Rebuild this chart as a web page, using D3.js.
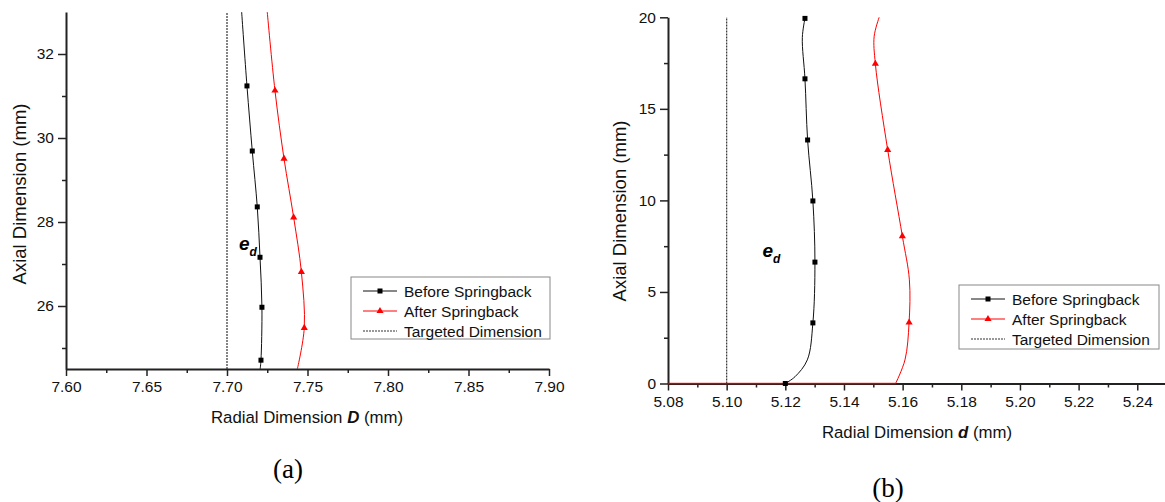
<!DOCTYPE html>
<html><head><meta charset="utf-8">
<script src="https://cdn.jsdelivr.net/npm/d3@7"></script>
<style>
html,body{margin:0;padding:0;background:#fff;}
svg{display:block;font-family:"Liberation Sans",Arial,sans-serif;}
</style></head>
<body>
<svg id="chart" width="1165" height="502"></svg>
<script>
// ---------- Data: chart (a) ----------
const aXTicks = [7.60, 7.65, 7.70, 7.75, 7.80, 7.85, 7.90];
const aYTicks = [26, 28, 30, 32];
const aTarget = 7.70;
const aBeforeLineX = [7.7091, 7.7124, 7.7157, 7.7188, 7.7205, 7.7217, 7.7211, 7.7206];
const aBeforeLineY = [33.0, 31.24, 29.69, 28.36, 27.16, 25.97, 24.71, 24.5];
const aBeforeMarkX = [7.7124, 7.7157, 7.7188, 7.7205, 7.7217, 7.7211];
const aBeforeMarkY = [31.24, 29.69, 28.36, 27.16, 25.97, 24.71];
const aAfterLineX = [7.7250, 7.7298, 7.7354, 7.7414, 7.7462, 7.7480, 7.7437];
const aAfterLineY = [33.0, 31.13, 29.51, 28.11, 26.81, 25.48, 24.5];
const aAfterMarkX = [7.7298, 7.7354, 7.7414, 7.7462, 7.7480];
const aAfterMarkY = [31.13, 29.51, 28.11, 26.81, 25.48];

// ---------- Data: chart (b) ----------
const bXTicks = [5.08, 5.10, 5.12, 5.14, 5.16, 5.18, 5.20, 5.22, 5.24];
const bYTicks = [0, 5, 10, 15, 20];
const bTarget = 5.10;
const bBeforeFlatX = [5.08, 5.12];
const bBeforeLineX = [5.1200, 5.1233, 5.1275, 5.1294, 5.1301, 5.1294, 5.1276, 5.1267, 5.1258, 5.1267];
const bBeforeLineY = [0, 0.37, 1.29, 3.31, 6.63, 9.97, 13.30, 16.64, 18.9, 19.94];
const bBeforeMarkX = [5.1200, 5.1294, 5.1301, 5.1294, 5.1276, 5.1267, 5.1267];
const bBeforeMarkY = [0, 3.31, 6.63, 9.97, 13.30, 16.64, 19.94];
const bAfterFlatX = [5.08, 5.1576];
const bAfterLineX = [5.1576, 5.1608, 5.1622, 5.1623, 5.1599, 5.1549, 5.1507, 5.1503, 5.1520];
const bAfterLineY = [0, 1.29, 3.33, 5.66, 8.05, 12.76, 17.46, 18.97, 20.0];
const bAfterMarkX = [5.1622, 5.1599, 5.1549, 5.1507];
const bAfterMarkY = [3.33, 8.05, 12.76, 17.46];

const legendLabels = ["Before Springback", "After Springback", "Targeted Dimension"];

const svg = d3.select("#chart");
const FONT = 15.5;
const AXC = "#222";

function drawPanel(cfg) {
  const g = svg.append("g");
  const x = d3.scaleLinear().domain(cfg.xDomain).range(cfg.xRange);
  const y = d3.scaleLinear().domain(cfg.yDomain).range(cfg.yRange);

  // minor ticks
  const xMinor = d3.axisBottom(x).tickValues(cfg.xMinor).tickSize(4).tickFormat("").tickSizeOuter(0);
  const yMinor = d3.axisLeft(y).tickValues(cfg.yMinor).tickSize(4).tickFormat("").tickSizeOuter(0);
  g.append("g").attr("transform", `translate(0,${cfg.yRange[0]})`).call(xMinor)
    .call(s => s.select(".domain").remove()).selectAll("line").attr("stroke", AXC).attr("stroke-width", 1.5);
  g.append("g").attr("transform", `translate(${cfg.xRange[0]},0)`).call(yMinor)
    .call(s => s.select(".domain").remove()).selectAll("line").attr("stroke", AXC).attr("stroke-width", 1.5);

  // target dotted line
  g.append("line")
    .attr("x1", x(cfg.target)).attr("x2", x(cfg.target))
    .attr("y1", cfg.yRange[0]).attr("y2", cfg.yRange[1])
    .attr("stroke", "#333").attr("stroke-width", 1.2).attr("stroke-dasharray", "2,1");

  const line = d3.line().x(d => x(d[0])).y(d => y(d[1])).curve(d3.curveCatmullRom.alpha(0.5));
  const straight = d3.line().x(d => x(d[0])).y(d => y(d[1]));

  // series paths
  const bPts = cfg.bLineX.map((v, i) => [v, cfg.bLineY[i]]);
  const rPts = cfg.rLineX.map((v, i) => [v, cfg.rLineY[i]]);
  if (cfg.bFlatX) {
    g.append("path").attr("d", straight(cfg.bFlatX.map(v => [v, 0]))).attr("fill", "none").attr("stroke", "#111").attr("stroke-width", 1);
  }
  g.append("path").attr("d", line(bPts)).attr("fill", "none").attr("stroke", "#111").attr("stroke-width", 1);

  // axes (major)
  const xAxis = d3.axisBottom(x).tickValues(cfg.xTicks).tickSize(7).tickSizeOuter(0)
    .tickFormat(d3.format(".2f")).tickPadding(5);
  const yAxis = d3.axisLeft(y).tickValues(cfg.yTicks).tickSize(8).tickSizeOuter(0)
    .tickFormat(d3.format("d")).tickPadding(4);
  const gx = g.append("g").attr("transform", `translate(0,${cfg.yRange[0]})`).call(xAxis);
  const gy = g.append("g").attr("transform", `translate(${cfg.xRange[0]},0)`).call(yAxis);
  [gx, gy].forEach(a => {
    a.select(".domain").attr("stroke", AXC).attr("stroke-width", 2);
    a.selectAll(".tick line").attr("stroke", AXC).attr("stroke-width", 1.5);
    a.selectAll("text").attr("font-size", FONT).attr("fill", "#111")
      .attr("font-family", '"Liberation Sans",Arial,sans-serif');
  });

  if (cfg.rFlatX) {
    g.append("path").attr("d", straight(cfg.rFlatX.map(v => [v, 0]))).attr("fill", "none").attr("stroke", "#e00").attr("stroke-opacity", 0.75).attr("stroke-width", 1.5);
  }
  g.append("path").attr("d", line(rPts)).attr("fill", "none").attr("stroke", "#f00").attr("stroke-width", 1);

  // markers
  g.selectAll(".sq").data(cfg.bMarkX.map((v, i) => [v, cfg.bMarkY[i]])).join("rect")
    .attr("x", d => x(d[0]) - 2.5).attr("y", d => y(d[1]) - 2.5)
    .attr("width", 5).attr("height", 5).attr("fill", "#000");
  const tri = d3.symbol().type(d3.symbolTriangle).size(22);
  g.selectAll(".tri").data(cfg.rMarkX.map((v, i) => [v, cfg.rMarkY[i]])).join("path")
    .attr("d", tri).attr("transform", d => `translate(${x(d[0])},${y(d[1])})`).attr("fill", "#f00");

  // axis titles
  const xt = g.append("text").attr("x", cfg.xTitlePos[0]).attr("y", cfg.xTitlePos[1])
    .attr("text-anchor", "middle").attr("font-size", 16.8).attr("fill", "#111");
  xt.append("tspan").text("Radial Dimension ");
  xt.append("tspan").attr("font-weight", "bold").attr("font-style", "italic").text(cfg.sym);
  xt.append("tspan").text(" (mm)");
  g.append("text").attr("transform", `translate(${cfg.yTitlePos[0]},${cfg.yTitlePos[1]}) rotate(-90)`)
    .attr("text-anchor", "middle").attr("font-size", 18.5).attr("fill", "#111").text("Axial Dimension (mm)");

  // e_d label
  const ed = g.append("text").attr("x", cfg.edPos[0]).attr("y", cfg.edPos[1])
    .attr("font-weight", "bold").attr("font-style", "italic").attr("fill", "#000");
  ed.append("tspan").attr("font-size", 19).text("e");
  ed.append("tspan").attr("font-size", 12).attr("dy", 6).text("d");

  // legend
  const L = cfg.legend;
  const lg = g.append("g");
  lg.append("rect").attr("x", L.x).attr("y", L.y).attr("width", L.w).attr("height", L.h)
    .attr("fill", "#fff").attr("stroke", "#888").attr("stroke-width", 1);
  legendLabels.forEach((lab, i) => {
    const ry = L.y + 14 + i * 20;
    const sx1 = L.x + 12, sx2 = L.x + 46;
    const ln = lg.append("line").attr("x1", sx1).attr("x2", sx2).attr("y1", ry).attr("y2", ry);
    if (i === 0) ln.attr("stroke", "#111").attr("stroke-width", 1);
    if (i === 1) ln.attr("stroke", "#f00").attr("stroke-width", 1);
    if (i === 2) ln.attr("stroke", "#333").attr("stroke-width", 1.2).attr("stroke-dasharray", "2,1");
    if (i === 0) lg.append("rect").attr("x", (sx1 + sx2) / 2 - 2.5).attr("y", ry - 2.5).attr("width", 5).attr("height", 5).attr("fill", "#000");
    if (i === 1) lg.append("path").attr("d", tri).attr("transform", `translate(${(sx1 + sx2) / 2},${ry})`).attr("fill", "#f00");
    lg.append("text").attr("x", L.x + 53).attr("y", ry + 5.5).attr("font-size", FONT).attr("fill", "#111").text(lab);
  });

  // panel caption
  svg.append("text").attr("x", cfg.capPos[0]).attr("y", cfg.capPos[1]).attr("text-anchor", "middle")
    .attr("font-family", '"Liberation Serif","Times New Roman",serif').attr("font-size", 27).attr("fill", "#000").text(cfg.cap);
}

const range = (a, b, s) => d3.range(Math.round((b - a) / s) + 1).map(i => +(a + i * s).toFixed(4));

drawPanel({
  xDomain: [7.60, 7.90], xRange: [66, 549],
  yDomain: [24.5, 33.0], yRange: [369, 12],
  xTicks: aXTicks, yTicks: aYTicks,
  xMinor: range(7.625, 7.875, 0.05), yMinor: [25, 27, 29, 31],
  target: aTarget,
  bLineX: aBeforeLineX, bLineY: aBeforeLineY, bMarkX: aBeforeMarkX, bMarkY: aBeforeMarkY,
  rLineX: aAfterLineX, rLineY: aAfterLineY, rMarkX: aAfterMarkX, rMarkY: aAfterMarkY,
  sym: "D", xTitlePos: [307, 423], yTitlePos: [26, 194],
  edPos: [239, 249.5],
  legend: {x: 351, y: 277, w: 199, h: 62},
  cap: "(a)", capPos: [288, 478]
});

drawPanel({
  xDomain: [5.08, 5.25], xRange: [668, 1166.6],
  yDomain: [0, 20], yRange: [383.5, 17.3],
  xTicks: bXTicks, yTicks: bYTicks,
  xMinor: range(5.09, 5.25, 0.02), yMinor: [2.5, 7.5, 12.5, 17.5],
  target: bTarget,
  bFlatX: bBeforeFlatX, rFlatX: bAfterFlatX,
  bLineX: bBeforeLineX, bLineY: bBeforeLineY, bMarkX: bBeforeMarkX, bMarkY: bBeforeMarkY,
  rLineX: bAfterLineX, rLineY: bAfterLineY, rMarkX: bAfterMarkX, rMarkY: bAfterMarkY,
  sym: "d", xTitlePos: [917, 438], yTitlePos: [626, 211],
  edPos: [762.5, 257],
  legend: {x: 959, y: 285, w: 200, h: 64},
  cap: "(b)", capPos: [888, 497]
});
</script>
</body></html>
